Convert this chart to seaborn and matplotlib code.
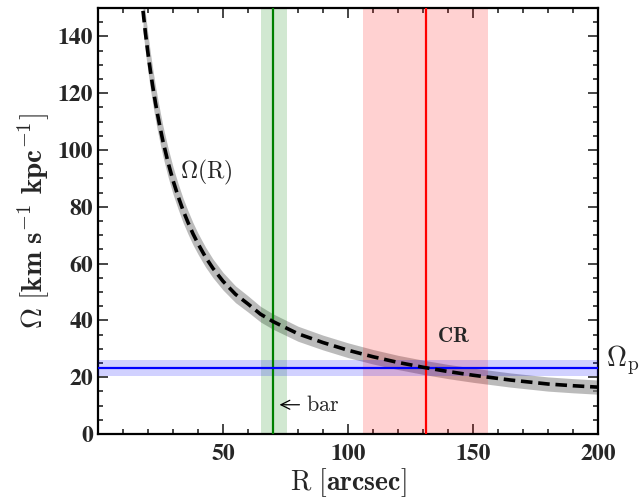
import matplotlib
matplotlib.use("Agg")
import matplotlib.pyplot as plt
import seaborn as sns
from matplotlib.ticker import MultipleLocator, FuncFormatter

# Data
R_curve = [18, 19, 20, 21, 22, 23, 24, 25, 26, 28, 30, 32, 34, 36, 38, 40, 43, 46, 50, 55, 60, 65, 70,
           80, 90, 100, 110, 120, 130, 140, 150, 165, 180, 190, 200]
omega_curve = [149, 141, 134, 127.6, 121.8, 116.5, 111.7, 107.2, 103, 95.7, 89.3, 83.8, 78.8, 74.5, 70.5,
               67, 62.3, 58.3, 53.8, 49.2, 45.8, 42.2, 39.6, 35.3, 32.2, 29.5, 27.2, 25.2, 23.5, 22.0,
               20.7, 19.0, 17.6, 17.0, 16.5]
omega_err = [7, 6.8, 6.6, 6.4, 6.2, 6.0, 5.8, 5.6, 5.4, 5.1, 4.8, 4.5, 4.3, 4.1, 3.9, 3.7, 3.5, 3.3, 3.1,
             2.95, 2.85, 2.75, 2.7, 2.65, 2.6, 2.6, 2.55, 2.5, 2.5, 2.5, 2.5, 2.5, 2.5, 2.5, 2.5]

bar_R = 70.0
bar_lo, bar_hi = 65.0, 75.5
cr_R = 131.0
cr_lo, cr_hi = 106.0, 156.0
omega_p = 23.3
omega_p_lo, omega_p_hi = 20.5, 26.1

sns.set_style("ticks")
plt.rcParams["mathtext.fontset"] = "cm"
plt.rcParams["font.family"] = ["DejaVu Serif"]

fig = plt.figure(figsize=(6.44, 5.01), dpi=100)
ax = fig.add_axes([98/644, 1-434/501, 500/644, 426/501])

lo = [o - e for o, e in zip(omega_curve, omega_err)]
hi = [o + e for o, e in zip(omega_curve, omega_err)]
ax.fill_between(R_curve, lo, hi, color="#8f8f8f", alpha=0.6, lw=0, zorder=1)

ax.axvspan(bar_lo, bar_hi, color="green", alpha=0.18, lw=0, zorder=2)
ax.axvspan(cr_lo, cr_hi, color="red", alpha=0.18, lw=0, zorder=2)
ax.axhspan(omega_p_lo, omega_p_hi, color="blue", alpha=0.18, lw=0, zorder=3)
ax.axvline(bar_R, color="green", lw=1.6, zorder=4)
ax.axvline(cr_R, color="red", lw=1.6, zorder=4)
ax.axhline(omega_p, color="blue", lw=1.6, zorder=4)

sns.lineplot(x=R_curve, y=omega_curve, ax=ax, color="black", lw=2.6, zorder=5)
ax.lines[-1].set_dashes([3.2, 1.6])

ax.set_xlim(0, 200)
ax.set_ylim(0, 150)
ax.xaxis.set_major_locator(MultipleLocator(50))
ax.xaxis.set_minor_locator(MultipleLocator(10))
ax.yaxis.set_major_locator(MultipleLocator(20))
ax.yaxis.set_minor_locator(MultipleLocator(5))

def fmt_x(v, pos):
    if v == 0:
        return ""
    return "%d" % v

def fmt_y(v, pos):
    return "%d" % v

ax.xaxis.set_major_formatter(FuncFormatter(fmt_x))
ax.yaxis.set_major_formatter(FuncFormatter(fmt_y))
ax.tick_params(which="both", direction="in", top=True, right=True, width=1.2, labelsize=17)
ax.tick_params(which="major", length=7)
ax.tick_params(which="minor", length=3.5)
ax.tick_params(axis="x", pad=7)
for lab in ax.get_xticklabels() + ax.get_yticklabels():
    lab.set_fontfamily("STIXGeneral")
    lab.set_fontweight("bold")
for sp in ax.spines.values():
    sp.set_linewidth(1.6)
    sp.set_color("black")

ax.set_xlabel(r"$\mathrm{R}\ [\mathbf{arcsec}]$", fontsize=20, labelpad=1)
ax.set_ylabel(r"$\Omega\ [\mathbf{km\ s^{-1}\ kpc^{-1}}]$", fontsize=21, labelpad=4)

ax.text(33, 92, r"$\Omega(\mathrm{R})$", fontsize=17, va="center", ha="left", zorder=6)
ax.text(142, 34.5, r"$\mathbf{CR}$", fontsize=15, va="center", ha="center", zorder=6)
ax.text(203, 25.8, r"$\Omega_{\mathrm{p}}$", fontsize=20, va="center", ha="left", clip_on=False)
ax.annotate(r"$\mathrm{bar}$", xy=(71.5, 10.3), xytext=(83, 10.3), fontsize=16, va="center", ha="left",
            arrowprops=dict(arrowstyle="->", color="black", lw=0.9), zorder=6)

fig.savefig("out.png", dpi=100)
